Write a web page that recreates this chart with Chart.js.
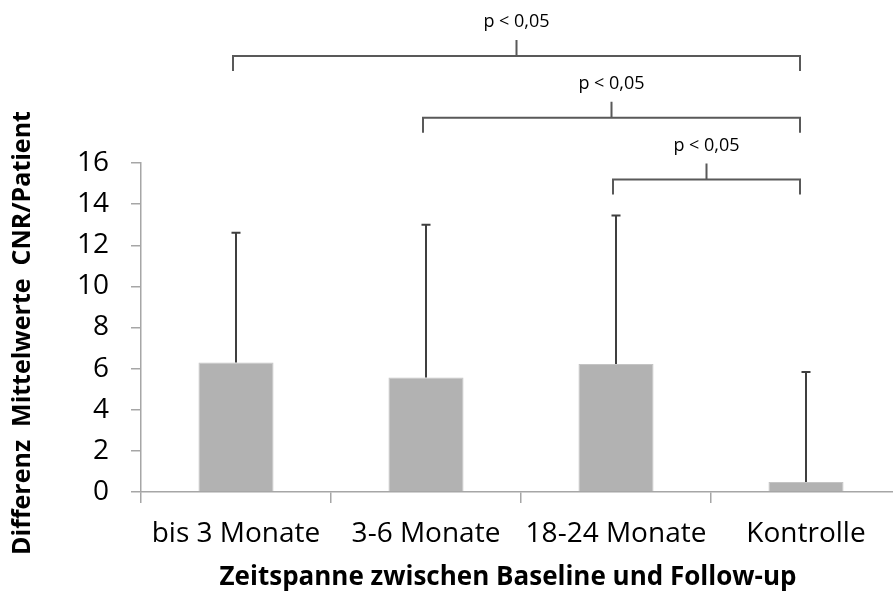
<!DOCTYPE html>
<html>
<head>
<meta charset="utf-8">
<script src="https://cdn.jsdelivr.net/npm/chart.js@4/dist/chart.umd.min.js"></script>
<style>
    html, body { margin: 0; padding: 0; background: #fff; overflow: hidden; }
    #wrap { width: 893px; height: 605px; overflow: hidden; position: relative; }
    #holder { width: 901px; height: 605px; position: absolute; left: 0; top: 0; }
</style>
</head>
<body>
<div id="wrap"><div id="holder"><canvas id="chart"></canvas></div></div>
<script>
const categories = ['bis 3 Monate', '3-6 Monate', '18-24 Monate', 'Kontrolle'];
const means = [6.3, 5.57, 6.23, 0.49];
const sdUpper = [6.31, 7.43, 7.22, 5.34];
const yTicks = [0, 2, 4, 6, 8, 10, 12, 14, 16];

// significance brackets: [from, to], level in y units, label
const bracketPairs = [[0, 3], [1, 3], [2, 3]];
const bracketLevels = [21.2, 18.2, 15.2];
const bracketLabel = 'p < 0,05';

const yTitle = 'Differenz  Mittelwerte  CNR/Patient';
const xTitle = 'Zeitspanne zwischen Baseline und Follow-up';

const FONT = "'Open Sans', 'Liberation Sans', sans-serif";
const AXIS_GRAY = '#a6a6a6';

const errorBars = {
    id: 'errorBars',
    afterDatasetsDraw(chart) {
        const { ctx, scales: { y } } = chart;
        const meta = chart.getDatasetMeta(0);
        ctx.save();
        ctx.strokeStyle = '#3f3f3f';
        ctx.lineWidth = 2;
        meta.data.forEach((bar, i) => {
            const yTop = y.getPixelForValue(means[i] + sdUpper[i]);
            ctx.beginPath();
            ctx.moveTo(bar.x, bar.y);
            ctx.lineTo(bar.x, yTop);
            ctx.moveTo(bar.x - 4.5, yTop);
            ctx.lineTo(bar.x + 4.5, yTop);
            ctx.stroke();
        });
        ctx.restore();
    }
};

const brackets = {
    id: 'brackets',
    afterDraw(chart) {
        const { ctx, scales: { x, y } } = chart;
        ctx.save();
        ctx.strokeStyle = '#595959';
        ctx.lineWidth = 2;
        ctx.fillStyle = '#000';
        ctx.font = `18px ${FONT}`;
        ctx.textAlign = 'center';
        ctx.textBaseline = 'middle';
        bracketPairs.forEach(([a, b], i) => {
            const x1 = x.getPixelForValue(a) - 3;
            const x2 = x.getPixelForValue(b) - 6;
            const yy = y.getPixelForValue(bracketLevels[i]);
            const mid = (x1 + x2) / 2;
            ctx.beginPath();
            ctx.moveTo(x1, yy + 15);
            ctx.lineTo(x1, yy);
            ctx.lineTo(x2, yy);
            ctx.lineTo(x2, yy + 15);
            ctx.moveTo(mid, yy);
            ctx.lineTo(mid, yy - 16);
            ctx.stroke();
            ctx.fillText(bracketLabel, mid, yy - 34);
        });
        ctx.restore();
    }
};

const axisTitles = {
    id: 'axisTitles',
    afterDraw(chart) {
        const { ctx } = chart;
        ctx.save();
        ctx.fillStyle = '#000';
        ctx.font = `bold 26px ${FONT}`;
        ctx.textAlign = 'center';
        ctx.textBaseline = 'middle';
        ctx.fillText(xTitle, 508, 578);
        ctx.font = `bold 25px ${FONT}`;
        ctx.translate(23, 333);
        ctx.rotate(-Math.PI / 2);
        ctx.fillText(yTitle, 0, 0);
        ctx.restore();
    }
};

new Chart(document.getElementById('chart'), {
    type: 'bar',
    data: {
        labels: categories,
        datasets: [{
            data: means,
            backgroundColor: '#b2b2b2',
            borderColor: '#c4c4c4',
            borderWidth: 1,
            categoryPercentage: 1,
            barPercentage: 0.395,
        }],
    },
    options: {
        responsive: true,
        maintainAspectRatio: false,
        animation: false,
        events: [],
        layout: { padding: { top: 163, left: 0, right: 0, bottom: 0 } },
        plugins: { legend: { display: false }, tooltip: { enabled: false } },
        scales: {
            x: {
                offset: true,
                grid: { offset: true, drawOnChartArea: false, color: AXIS_GRAY, tickLength: 11, lineWidth: 1.5 },
                border: { color: AXIS_GRAY, width: 1.5 },
                ticks: { color: '#000', font: { family: FONT, size: 28 }, padding: 14, maxRotation: 0 },
                afterFit(scale) { scale.height = 113; },
            },
            y: {
                min: 0,
                max: 16,
                afterBuildTicks(scale) { scale.ticks = yTicks.map(v => ({ value: v })); },
                grid: { drawOnChartArea: false, color: AXIS_GRAY, tickLength: 10, lineWidth: 1.5 },
                border: { color: AXIS_GRAY, width: 1.5 },
                ticks: { color: '#000', font: { family: FONT, size: 28 }, padding: 22 },
                afterFit(scale) { scale.width = 141; },
            },
        },
    },
    plugins: [errorBars, brackets, axisTitles],
});
</script>
</body>
</html>
